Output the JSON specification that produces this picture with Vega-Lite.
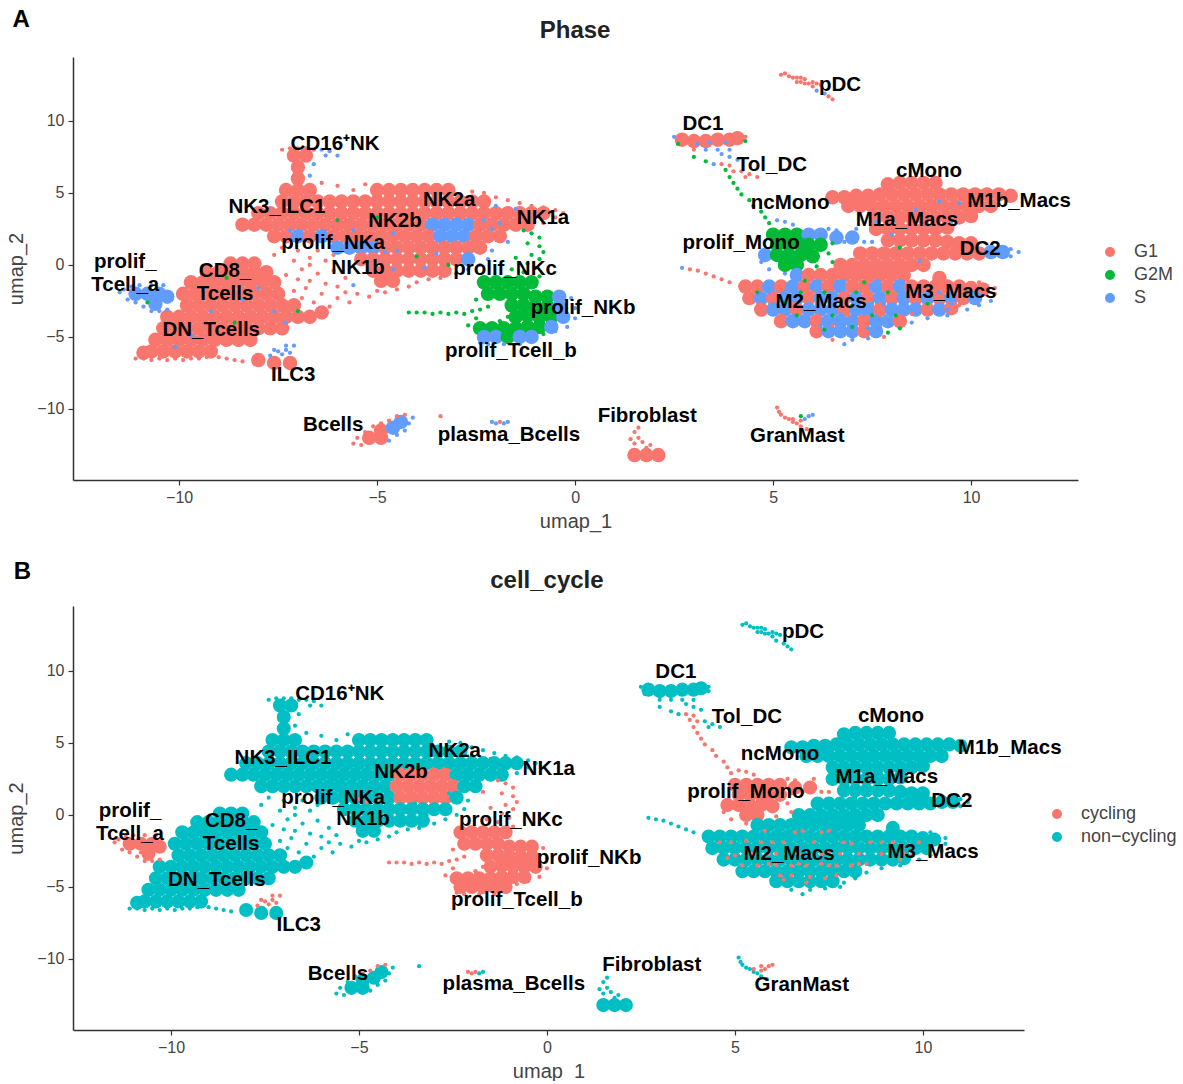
{"$schema":"https://vega.github.io/schema/vega-lite/v6.json","background":"white","padding":{"left":6,"top":8,"right":0,"bottom":0},"spacing":29,"resolve":{"scale":{"color":"independent"},"legend":{"color":"independent"}},
"config":{"view":{"stroke":null},"font":"Liberation Sans","axis":{"grid":false,"domainColor":"#333333","domainWidth":1.5,"tickColor":"#333333","tickWidth":1.2,"tickSize":5,"labelColor":"#444444","labelFontSize":16,"titleColor":"#444444","titleFontSize":20,"titleFontWeight":"normal","labelPadding":4},"axisX":{"titlePadding":6},"axisY":{"titlePadding":10},"legend":{"title":null,"labelFontSize":18,"labelColor":"#444444","symbolSize":100,"symbolType":"circle","rowPadding":5,"labelOffset":15,"orient":"none"}},
"datasets":{
"base":[
{"x":-10.9,"y":-6.1,"p":"G1","c":"n"},{"x":-10.7,"y":-6,"p":"G1","c":"n"},{"x":-10.4,"y":-6,"p":"G1","c":"n"},{"x":-10.1,"y":-6,"p":"G1","c":"n"},{"x":-9.8,"y":-6,"p":"G1","c":"n"},{"x":-9.5,"y":-6,"p":"G1","c":"n"},{"x":-9.2,"y":-6,"p":"G1","c":"n"},
{"x":-10.6,"y":-5.2,"p":"G1","c":"n"},{"x":-10.3,"y":-5.2,"p":"G1","c":"n"},{"x":-10,"y":-5.2,"p":"G1","c":"n"},{"x":-9.7,"y":-5.2,"p":"G1","c":"n"},{"x":-9.4,"y":-5.2,"p":"G1","c":"n"},{"x":-9.1,"y":-5.2,"p":"G1","c":"n"},{"x":-8.8,"y":-5.2,"p":"G1","c":"n"},{"x":-8.5,"y":-5.2,"p":"G1","c":"n"},{"x":-8.2,"y":-5.2,"p":"G1","c":"n"},
{"x":-10.4,"y":-4.4,"p":"G1","c":"n"},{"x":-10.1,"y":-4.4,"p":"G1","c":"n"},{"x":-9.8,"y":-4.4,"p":"G1","c":"n"},{"x":-9.5,"y":-4.4,"p":"G1","c":"n"},{"x":-9.2,"y":-4.4,"p":"G1","c":"n"},{"x":-8.9,"y":-4.4,"p":"G1","c":"n"},{"x":-8.6,"y":-4.4,"p":"G1","c":"n"},{"x":-8.3,"y":-4.4,"p":"G1","c":"n"},{"x":-8,"y":-4.4,"p":"G1","c":"n"},{"x":-7.7,"y":-4.4,"p":"G1","c":"n"},{"x":-7.4,"y":-4.4,"p":"G1","c":"n"},
{"x":-10.3,"y":-3.6,"p":"G1","c":"n"},{"x":-10,"y":-3.6,"p":"G1","c":"n"},{"x":-9.7,"y":-3.6,"p":"G1","c":"n"},{"x":-9.4,"y":-3.6,"p":"G1","c":"n"},{"x":-9.1,"y":-3.6,"p":"G1","c":"n"},{"x":-8.8,"y":-3.6,"p":"G1","c":"n"},{"x":-8.5,"y":-3.6,"p":"G1","c":"n"},{"x":-8.2,"y":-3.6,"p":"G1","c":"n"},{"x":-7.9,"y":-3.6,"p":"G1","c":"n"},{"x":-7.6,"y":-3.6,"p":"G1","c":"n"},{"x":-7.3,"y":-3.6,"p":"G1","c":"n"},{"x":-7,"y":-3.6,"p":"G1","c":"n"},{"x":-6.7,"y":-3.6,"p":"G1","c":"n"},{"x":-6.4,"y":-3.3,"p":"G1","c":"n"},
{"x":-9.8,"y":-2.8,"p":"G1","c":"n"},{"x":-9.5,"y":-2.8,"p":"G1","c":"n"},{"x":-9.2,"y":-2.8,"p":"G1","c":"n"},{"x":-8.9,"y":-2.8,"p":"G1","c":"n"},{"x":-8.6,"y":-2.8,"p":"G1","c":"n"},{"x":-8.3,"y":-2.8,"p":"G1","c":"n"},{"x":-8,"y":-2.8,"p":"G1","c":"n"},{"x":-7.7,"y":-2.8,"p":"G1","c":"n"},{"x":-7.4,"y":-2.8,"p":"G1","c":"n"},{"x":-7.1,"y":-2.8,"p":"G1","c":"n"},
{"x":-9.9,"y":-2,"p":"G1","c":"n"},{"x":-9.6,"y":-2,"p":"G1","c":"n"},{"x":-9.3,"y":-2,"p":"G1","c":"n"},{"x":-9,"y":-2,"p":"G1","c":"n"},{"x":-8.7,"y":-2,"p":"G1","c":"n"},{"x":-8.4,"y":-2,"p":"G1","c":"n"},{"x":-8.1,"y":-2,"p":"G1","c":"n"},{"x":-7.8,"y":-2,"p":"G1","c":"n"},{"x":-7.5,"y":-2,"p":"G1","c":"n"},
{"x":-9.7,"y":-1.2,"p":"G1","c":"n"},{"x":-9.4,"y":-1.2,"p":"G1","c":"n"},{"x":-9.1,"y":-1.2,"p":"G1","c":"n"},{"x":-8.8,"y":-1.2,"p":"G1","c":"n"},{"x":-8.5,"y":-1.2,"p":"G1","c":"n"},{"x":-8.2,"y":-1.2,"p":"G1","c":"n"},{"x":-7.9,"y":-1.2,"p":"G1","c":"n"},{"x":-7.6,"y":-1.2,"p":"G1","c":"n"},
{"x":-9.3,"y":-0.5,"p":"G1","c":"n"},{"x":-9,"y":-0.5,"p":"G1","c":"n"},{"x":-8.7,"y":-0.5,"p":"G1","c":"n"},{"x":-8.4,"y":-0.5,"p":"G1","c":"n"},{"x":-8.1,"y":-0.5,"p":"G1","c":"n"},{"x":-7.8,"y":-0.5,"p":"G1","c":"n"},{"x":-8.7,"y":0.1,"p":"G1","c":"n"},{"x":-8.4,"y":0.1,"p":"G1","c":"n"},{"x":-8.1,"y":0.1,"p":"G1","c":"n"},
{"x":-11.1,"y":-2,"p":"S","c":"c"},{"x":-10.8,"y":-2,"p":"S","c":"c"},{"x":-10.5,"y":-2,"p":"S","c":"c"},{"x":-10.3,"y":-2.2,"p":"S","c":"c"},{"x":-10.6,"y":-2.7,"p":"S","c":"c"},
{"x":-8,"y":-6.6,"p":"G1","c":"n"},{"x":-7.6,"y":-6.8,"p":"G1","c":"n"},{"x":-7.2,"y":-6.8,"p":"G1","c":"n"},
{"x":-7.1,"y":7.6,"p":"G1","c":"n"},{"x":-6.8,"y":7.6,"p":"G1","c":"n"},{"x":-7,"y":6.8,"p":"G1","c":"n"},{"x":-7,"y":6,"p":"G1","c":"n"},
{"x":-7.3,"y":5.2,"p":"G1","c":"n"},{"x":-7,"y":5.2,"p":"G1","c":"n"},{"x":-6.7,"y":5.2,"p":"G1","c":"n"},{"x":-5,"y":5.2,"p":"G1","c":"n"},{"x":-4.7,"y":5.2,"p":"G1","c":"n"},{"x":-4.4,"y":5.2,"p":"G1","c":"n"},{"x":-4.1,"y":5.2,"p":"G1","c":"n"},{"x":-3.8,"y":5.2,"p":"G1","c":"n"},{"x":-3.5,"y":5.2,"p":"G1","c":"n"},{"x":-3.2,"y":5.2,"p":"G1","c":"n"},
{"x":-7.4,"y":4.4,"p":"G1","c":"n"},{"x":-7.1,"y":4.4,"p":"G1","c":"n"},{"x":-6.8,"y":4.4,"p":"G1","c":"n"},{"x":-6.5,"y":4.4,"p":"G1","c":"n"},{"x":-6.2,"y":4.4,"p":"G1","c":"n"},{"x":-5.9,"y":4.4,"p":"G1","c":"n"},{"x":-5.6,"y":4.4,"p":"G1","c":"n"},{"x":-5.3,"y":4.4,"p":"G1","c":"n"},{"x":-5,"y":4.4,"p":"G1","c":"n"},{"x":-4.7,"y":4.4,"p":"G1","c":"n"},{"x":-4.4,"y":4.4,"p":"G1","c":"n"},{"x":-4.1,"y":4.4,"p":"G1","c":"n"},{"x":-3.8,"y":4.4,"p":"G1","c":"n"},{"x":-3.5,"y":4.4,"p":"G1","c":"n"},{"x":-3.2,"y":4.4,"p":"G1","c":"n"},{"x":-2.9,"y":4.4,"p":"G1","c":"n"},{"x":-2.6,"y":4.4,"p":"G1","c":"n"},{"x":-2.3,"y":4.4,"p":"G1","c":"n"},
{"x":-8,"y":3.6,"p":"G1","c":"n"},{"x":-7.7,"y":3.6,"p":"G1","c":"n"},{"x":-7.4,"y":3.6,"p":"G1","c":"n"},{"x":-7.1,"y":3.6,"p":"G1","c":"n"},{"x":-6.8,"y":3.6,"p":"G1","c":"n"},{"x":-6.5,"y":3.6,"p":"G1","c":"n"},{"x":-6.2,"y":3.6,"p":"G1","c":"n"},{"x":-5.9,"y":3.6,"p":"G1","c":"n"},{"x":-5.6,"y":3.6,"p":"G1","c":"n"},{"x":-5.3,"y":3.6,"p":"G1","c":"n"},{"x":-5,"y":3.6,"p":"G1","c":"n"},{"x":-4.7,"y":3.6,"p":"G1","c":"n"},{"x":-4.4,"y":3.6,"p":"G1","c":"n"},{"x":-4.1,"y":3.6,"p":"G1","c":"n"},{"x":-3.8,"y":3.6,"p":"G1","c":"n"},{"x":-3.5,"y":3.6,"p":"G1","c":"n"},{"x":-3.2,"y":3.6,"p":"G1","c":"n"},{"x":-2.9,"y":3.6,"p":"G1","c":"n"},{"x":-2.6,"y":3.6,"p":"G1","c":"n"},{"x":-2.3,"y":3.6,"p":"G1","c":"n"},{"x":-2,"y":3.6,"p":"G1","c":"n"},{"x":-1.7,"y":3.6,"p":"G1","c":"n"},{"x":-1.4,"y":3.6,"p":"G1","c":"n"},{"x":-1.1,"y":3.6,"p":"G1","c":"n"},{"x":-0.8,"y":3.6,"p":"G1","c":"n"},
{"x":-8.4,"y":2.8,"p":"G1","c":"n"},{"x":-8.1,"y":2.8,"p":"G1","c":"n"},{"x":-7.8,"y":2.8,"p":"G1","c":"n"},{"x":-7.5,"y":2.8,"p":"G1","c":"n"},{"x":-7.2,"y":2.8,"p":"G1","c":"n"},{"x":-6.9,"y":2.8,"p":"G1","c":"n"},{"x":-6.6,"y":2.8,"p":"G1","c":"n"},{"x":-6.3,"y":2.8,"p":"G1","c":"n"},{"x":-6,"y":2.8,"p":"G1","c":"n"},{"x":-5.7,"y":2.8,"p":"G1","c":"n"},{"x":-5.4,"y":2.8,"p":"G1","c":"n"},{"x":-5.1,"y":2.8,"p":"G1","c":"n"},{"x":-4.8,"y":2.8,"p":"G1","c":"n"},{"x":-4.5,"y":2.8,"p":"G1","c":"n"},{"x":-4.2,"y":2.8,"p":"G1","c":"n"},{"x":-3.9,"y":2.8,"p":"G1","c":"c"},{"x":-3.6,"y":2.8,"p":"S","c":"c"},{"x":-3.3,"y":2.8,"p":"S","c":"c"},{"x":-3,"y":2.8,"p":"S","c":"c"},{"x":-2.7,"y":2.8,"p":"S","c":"c"},{"x":-2.4,"y":2.8,"p":"G1","c":"n"},{"x":-2.1,"y":2.8,"p":"G1","c":"n"},{"x":-1.8,"y":2.8,"p":"G1","c":"n"},{"x":-1.5,"y":2.8,"p":"G1","c":"n"},{"x":-1.2,"y":2.8,"p":"G1","c":"n"},
{"x":-7.6,"y":2,"p":"G1","c":"n"},{"x":-7.3,"y":2,"p":"G1","c":"n"},{"x":-7,"y":2,"p":"S","c":"n"},{"x":-6.7,"y":2,"p":"G1","c":"n"},{"x":-6.4,"y":2,"p":"S","c":"n"},{"x":-6.1,"y":2,"p":"G1","c":"n"},{"x":-5.8,"y":2,"p":"G1","c":"n"},{"x":-5.5,"y":2,"p":"G1","c":"n"},{"x":-5.2,"y":2,"p":"G1","c":"n"},{"x":-4.9,"y":2,"p":"G1","c":"n"},{"x":-4.6,"y":2,"p":"G1","c":"n"},{"x":-4.3,"y":2,"p":"G1","c":"n"},{"x":-4,"y":2,"p":"G1","c":"c"},{"x":-3.7,"y":2,"p":"G1","c":"c"},{"x":-3.4,"y":2,"p":"S","c":"c"},{"x":-3.1,"y":2,"p":"S","c":"c"},{"x":-2.8,"y":2,"p":"S","c":"c"},{"x":-2.5,"y":2,"p":"G1","c":"c"},{"x":-2.2,"y":2,"p":"G1","c":"n"},{"x":-1.9,"y":2,"p":"G1","c":"n"},
{"x":-6,"y":1.2,"p":"S","c":"n"},{"x":-5.7,"y":1.2,"p":"S","c":"n"},{"x":-5.4,"y":1.2,"p":"S","c":"n"},{"x":-5.1,"y":1.2,"p":"S","c":"n"},{"x":-4.8,"y":1.2,"p":"G1","c":"n"},{"x":-4.5,"y":1.2,"p":"G1","c":"n"},{"x":-4.2,"y":1.2,"p":"G1","c":"n"},{"x":-3.9,"y":1.2,"p":"G1","c":"c"},{"x":-3.6,"y":1.2,"p":"G1","c":"c"},{"x":-3.3,"y":1.2,"p":"G1","c":"c"},{"x":-3,"y":1.2,"p":"G1","c":"c"},{"x":-2.7,"y":1.2,"p":"G1","c":"c"},{"x":-2.4,"y":1.2,"p":"G1","c":"n"},
{"x":-5.4,"y":0.4,"p":"G1","c":"n"},{"x":-5.1,"y":0.4,"p":"G1","c":"n"},{"x":-4.8,"y":0.4,"p":"G1","c":"n"},{"x":-4.5,"y":0.4,"p":"G1","c":"n"},{"x":-4.2,"y":0.4,"p":"G1","c":"n"},{"x":-3.9,"y":0.4,"p":"G1","c":"n"},{"x":-3.6,"y":0.4,"p":"G1","c":"n"},{"x":-3.3,"y":0.4,"p":"G1","c":"n"},{"x":-3,"y":0.4,"p":"G1","c":"n"},{"x":-2.7,"y":0.4,"p":"S","c":"n"},
{"x":-5.1,"y":-0.4,"p":"G1","c":"n"},{"x":-4.8,"y":-0.4,"p":"G1","c":"n"},{"x":-4.5,"y":-0.4,"p":"G1","c":"n"},{"x":-4.2,"y":-0.4,"p":"G1","c":"n"},{"x":-3.9,"y":-0.4,"p":"G1","c":"n"},{"x":-3.6,"y":-0.4,"p":"G1","c":"n"},{"x":-3.3,"y":-0.4,"p":"G1","c":"n"},{"x":-4.9,"y":-1.1,"p":"G1","c":"n"},{"x":-4.6,"y":-1.1,"p":"G1","c":"n"},
{"x":-2.3,"y":-1.2,"p":"G2M","c":"c"},{"x":-2,"y":-1.2,"p":"G2M","c":"c"},{"x":-1.7,"y":-1.2,"p":"G2M","c":"c"},{"x":-1.4,"y":-1.2,"p":"G2M","c":"c"},{"x":-1.1,"y":-1.2,"p":"G2M","c":"c"},{"x":-2.2,"y":-2,"p":"G2M","c":"c"},{"x":-1.9,"y":-2,"p":"G2M","c":"c"},{"x":-1.6,"y":-2,"p":"G2M","c":"c"},{"x":-1.3,"y":-2,"p":"G2M","c":"c"},{"x":-1,"y":-2.2,"p":"G2M","c":"c"},{"x":-0.7,"y":-2.2,"p":"G2M","c":"c"},{"x":-0.4,"y":-2.2,"p":"S","c":"c"},{"x":-1.6,"y":-2.8,"p":"G2M","c":"c"},{"x":-1.3,"y":-2.8,"p":"G2M","c":"c"},{"x":-1,"y":-2.9,"p":"G2M","c":"c"},{"x":-0.7,"y":-2.9,"p":"G2M","c":"c"},{"x":-0.4,"y":-2.9,"p":"S","c":"c"},{"x":-1.5,"y":-3.6,"p":"G2M","c":"c"},{"x":-1.2,"y":-3.5,"p":"G2M","c":"c"},{"x":-0.9,"y":-3.6,"p":"G2M","c":"c"},{"x":-0.6,"y":-3.6,"p":"G2M","c":"c"},{"x":-0.3,"y":-3.6,"p":"S","c":"c"},{"x":-2.4,"y":-4.4,"p":"G2M","c":"c"},{"x":-2.1,"y":-4.4,"p":"G2M","c":"c"},{"x":-1.8,"y":-4.4,"p":"G2M","c":"c"},{"x":-1.5,"y":-4.4,"p":"G2M","c":"c"},{"x":-1.2,"y":-4.3,"p":"G2M","c":"c"},{"x":-0.9,"y":-4.3,"p":"G2M","c":"c"},{"x":-0.6,"y":-4.3,"p":"S","c":"c"},{"x":-2.3,"y":-5,"p":"S","c":"c"},{"x":-2,"y":-5,"p":"S","c":"c"},{"x":-1.7,"y":-5,"p":"G2M","c":"c"},{"x":-1.4,"y":-5,"p":"S","c":"c"},{"x":-1.1,"y":-5,"p":"S","c":"c"},
{"x":2.7,"y":8.7,"p":"G1","c":"n"},{"x":3,"y":8.6,"p":"G1","c":"n"},{"x":3.3,"y":8.6,"p":"G1","c":"n"},{"x":3.6,"y":8.7,"p":"G1","c":"n"},{"x":3.9,"y":8.7,"p":"G1","c":"n"},{"x":4.1,"y":8.8,"p":"G1","c":"n"},
{"x":5,"y":2.1,"p":"G2M","c":"c"},{"x":5.3,"y":2.1,"p":"G2M","c":"c"},{"x":5.6,"y":2.1,"p":"G2M","c":"c"},{"x":5.9,"y":2.1,"p":"S","c":"c"},{"x":6.2,"y":2.1,"p":"S","c":"c"},{"x":5.1,"y":1.4,"p":"G2M","c":"c"},{"x":5.4,"y":1.4,"p":"G2M","c":"c"},{"x":5.7,"y":1.4,"p":"G2M","c":"c"},{"x":5.9,"y":1.4,"p":"G2M","c":"c"},{"x":6.2,"y":1.4,"p":"G2M","c":"c"},{"x":4.8,"y":0.7,"p":"S","c":"c"},{"x":5.1,"y":0.7,"p":"G2M","c":"c"},{"x":5.4,"y":0.7,"p":"G2M","c":"c"},{"x":5.7,"y":0.7,"p":"G2M","c":"c"},{"x":6,"y":0.6,"p":"G2M","c":"c"},{"x":5.3,"y":0,"p":"G2M","c":"c"},{"x":5.6,"y":0,"p":"G2M","c":"c"},{"x":6.6,"y":1.9,"p":"S","c":"c"},{"x":7,"y":1.9,"p":"S","c":"c"},
{"x":7.9,"y":5.6,"p":"G1","c":"n"},{"x":8.2,"y":5.7,"p":"G1","c":"n"},{"x":8.5,"y":5.7,"p":"G1","c":"n"},{"x":8.8,"y":5.7,"p":"G1","c":"n"},{"x":9.1,"y":5.7,"p":"G1","c":"n"},
{"x":6.5,"y":4.7,"p":"G1","c":"n"},{"x":6.8,"y":4.7,"p":"G1","c":"n"},{"x":7.1,"y":4.8,"p":"G1","c":"n"},{"x":7.4,"y":4.8,"p":"G1","c":"n"},{"x":7.7,"y":4.9,"p":"G1","c":"n"},{"x":8,"y":4.9,"p":"G1","c":"n"},{"x":8.3,"y":4.9,"p":"G1","c":"n"},{"x":8.6,"y":4.9,"p":"G1","c":"n"},{"x":8.9,"y":4.9,"p":"G1","c":"n"},{"x":9.2,"y":4.9,"p":"G1","c":"n"},{"x":9.5,"y":4.9,"p":"G1","c":"n"},{"x":9.8,"y":4.9,"p":"G1","c":"n"},{"x":10.1,"y":4.9,"p":"G1","c":"n"},{"x":10.4,"y":4.9,"p":"G1","c":"n"},{"x":10.7,"y":4.9,"p":"G1","c":"n"},{"x":11,"y":4.8,"p":"G1","c":"n"},
{"x":6.9,"y":4.1,"p":"G1","c":"n"},{"x":7.2,"y":4.1,"p":"G1","c":"n"},{"x":7.5,"y":4.1,"p":"G1","c":"n"},{"x":7.8,"y":4.1,"p":"G1","c":"n"},{"x":8.1,"y":4.1,"p":"G1","c":"n"},{"x":8.4,"y":4.1,"p":"G1","c":"n"},{"x":8.7,"y":4.1,"p":"G1","c":"n"},{"x":9,"y":4.1,"p":"G1","c":"n"},{"x":9.3,"y":4.1,"p":"G1","c":"n"},{"x":9.6,"y":4.1,"p":"G1","c":"n"},{"x":9.9,"y":4.1,"p":"G1","c":"n"},{"x":10.2,"y":4.1,"p":"G1","c":"n"},{"x":10.5,"y":4.1,"p":"G1","c":"n"},
{"x":7.6,"y":3.3,"p":"G1","c":"n"},{"x":7.9,"y":3.3,"p":"G1","c":"n"},{"x":8.2,"y":3.3,"p":"G1","c":"n"},{"x":8.5,"y":3.3,"p":"G1","c":"n"},{"x":8.8,"y":3.3,"p":"G1","c":"n"},{"x":9.1,"y":3.3,"p":"G1","c":"n"},{"x":9.4,"y":3.3,"p":"G1","c":"n"},{"x":9.7,"y":3.3,"p":"G1","c":"n"},{"x":10,"y":3.4,"p":"G1","c":"n"},
{"x":7.6,"y":2.5,"p":"G1","c":"n"},{"x":7.9,"y":2.5,"p":"G1","c":"n"},{"x":8.2,"y":2.5,"p":"G1","c":"n"},{"x":8.5,"y":2.5,"p":"G1","c":"n"},{"x":8.8,"y":2.5,"p":"G1","c":"n"},{"x":9.1,"y":2.5,"p":"G1","c":"n"},{"x":9.4,"y":2.6,"p":"G1","c":"n"},
{"x":7.9,"y":1.7,"p":"G1","c":"n"},{"x":8.2,"y":1.7,"p":"G1","c":"n"},{"x":8.5,"y":1.7,"p":"G1","c":"n"},{"x":8.8,"y":1.7,"p":"G1","c":"n"},{"x":9.1,"y":1.7,"p":"G1","c":"n"},{"x":9.4,"y":1.6,"p":"G1","c":"n"},{"x":9.7,"y":1.5,"p":"G1","c":"n"},{"x":10,"y":1.5,"p":"G1","c":"n"},
{"x":7.2,"y":0.8,"p":"G1","c":"n"},{"x":7.5,"y":0.8,"p":"G1","c":"n"},{"x":7.8,"y":0.8,"p":"G1","c":"n"},{"x":8.1,"y":0.8,"p":"G1","c":"n"},{"x":8.4,"y":0.8,"p":"G1","c":"n"},{"x":8.7,"y":0.8,"p":"G1","c":"n"},{"x":9,"y":0.8,"p":"G1","c":"n"},{"x":9.3,"y":0.8,"p":"G1","c":"n"},{"x":9.6,"y":0.8,"p":"G1","c":"n"},{"x":9.9,"y":0.8,"p":"G1","c":"n"},{"x":10.2,"y":0.8,"p":"G1","c":"n"},{"x":10.5,"y":0.9,"p":"S","c":"n"},{"x":10.8,"y":0.9,"p":"S","c":"n"},
{"x":6.7,"y":0,"p":"G1","c":"n"},{"x":7,"y":0,"p":"G1","c":"n"},{"x":7.3,"y":0,"p":"G1","c":"n"},{"x":7.6,"y":0,"p":"G1","c":"n"},{"x":7.9,"y":0,"p":"G1","c":"n"},{"x":8.2,"y":0,"p":"G1","c":"n"},{"x":8.5,"y":0,"p":"G1","c":"n"},{"x":8.8,"y":0,"p":"G1","c":"n"},
{"x":5.6,"y":-0.7,"p":"S","c":"n"},{"x":5.9,"y":-0.7,"p":"G1","c":"n"},{"x":6.2,"y":-0.7,"p":"G1","c":"n"},{"x":6.5,"y":-0.7,"p":"G1","c":"n"},{"x":6.8,"y":-0.7,"p":"G1","c":"n"},{"x":7.1,"y":-0.7,"p":"G1","c":"n"},{"x":7.4,"y":-0.7,"p":"G1","c":"n"},{"x":7.7,"y":-0.7,"p":"G1","c":"n"},{"x":8,"y":-0.7,"p":"G1","c":"n"},{"x":8.3,"y":-0.7,"p":"G1","c":"n"},{"x":9.2,"y":-0.9,"p":"G1","c":"n"},
{"x":4.3,"y":-1.5,"p":"G1","c":"n"},{"x":4.6,"y":-1.5,"p":"G1","c":"n"},{"x":4.9,"y":-1.5,"p":"S","c":"n"},{"x":5.2,"y":-1.5,"p":"G1","c":"n"},{"x":5.5,"y":-1.5,"p":"S","c":"n"},{"x":5.8,"y":-1.5,"p":"G1","c":"n"},{"x":6.1,"y":-1.5,"p":"S","c":"n"},{"x":6.4,"y":-1.5,"p":"G1","c":"n"},{"x":6.7,"y":-1.5,"p":"S","c":"n"},{"x":7,"y":-1.5,"p":"G1","c":"n"},{"x":7.3,"y":-1.5,"p":"G1","c":"n"},{"x":7.6,"y":-1.5,"p":"S","c":"n"},{"x":7.9,"y":-1.5,"p":"G1","c":"n"},{"x":8.2,"y":-1.5,"p":"S","c":"n"},{"x":8.5,"y":-1.5,"p":"G1","c":"n"},{"x":8.8,"y":-1.5,"p":"G1","c":"n"},{"x":9.1,"y":-1.5,"p":"G1","c":"n"},{"x":9.4,"y":-1.5,"p":"G1","c":"n"},{"x":9.7,"y":-1.5,"p":"G1","c":"n"},{"x":10,"y":-1.6,"p":"G1","c":"n"},{"x":10.3,"y":-1.7,"p":"G1","c":"n"},
{"x":4.4,"y":-2.3,"p":"G1","c":"n"},{"x":4.7,"y":-2.3,"p":"S","c":"n"},{"x":5,"y":-2.3,"p":"G1","c":"n"},{"x":5.3,"y":-2.3,"p":"S","c":"n"},{"x":5.6,"y":-2.3,"p":"S","c":"n"},{"x":5.9,"y":-2.3,"p":"G1","c":"n"},{"x":6.2,"y":-2.3,"p":"S","c":"n"},{"x":6.5,"y":-2.3,"p":"S","c":"n"},{"x":6.8,"y":-2.3,"p":"G1","c":"n"},{"x":7.1,"y":-2.3,"p":"S","c":"n"},{"x":7.4,"y":-2.3,"p":"G1","c":"n"},{"x":7.7,"y":-2.3,"p":"S","c":"n"},{"x":8,"y":-2.3,"p":"G1","c":"n"},{"x":8.3,"y":-2.3,"p":"S","c":"n"},{"x":8.6,"y":-2.3,"p":"G1","c":"n"},{"x":8.9,"y":-2.3,"p":"S","c":"n"},{"x":9.2,"y":-2.3,"p":"G1","c":"n"},{"x":9.5,"y":-2.3,"p":"S","c":"n"},{"x":9.8,"y":-2.3,"p":"G1","c":"n"},{"x":10.1,"y":-2.3,"p":"S","c":"n"},
{"x":4.7,"y":-3.1,"p":"G1","c":"n"},{"x":5,"y":-3.1,"p":"S","c":"n"},{"x":5.3,"y":-3.1,"p":"S","c":"n"},{"x":5.6,"y":-3.1,"p":"G1","c":"n"},{"x":5.9,"y":-3.1,"p":"S","c":"n"},{"x":6.2,"y":-3.1,"p":"S","c":"n"},{"x":6.5,"y":-3.1,"p":"S","c":"n"},{"x":6.8,"y":-3.1,"p":"G1","c":"n"},{"x":7.1,"y":-3.1,"p":"S","c":"n"},{"x":7.4,"y":-3.1,"p":"S","c":"n"},{"x":7.7,"y":-3.1,"p":"G1","c":"n"},{"x":8,"y":-3.1,"p":"S","c":"n"},{"x":8.3,"y":-3.1,"p":"S","c":"n"},{"x":8.6,"y":-3.1,"p":"S","c":"n"},{"x":8.9,"y":-3.1,"p":"G1","c":"n"},{"x":9.2,"y":-3.1,"p":"S","c":"n"},{"x":9.5,"y":-3,"p":"G1","c":"n"},
{"x":5.2,"y":-3.9,"p":"G1","c":"n"},{"x":5.5,"y":-3.9,"p":"S","c":"n"},{"x":5.8,"y":-3.9,"p":"S","c":"n"},{"x":6.1,"y":-3.9,"p":"G1","c":"n"},{"x":6.4,"y":-3.9,"p":"S","c":"n"},{"x":6.7,"y":-3.9,"p":"S","c":"n"},{"x":7,"y":-3.9,"p":"S","c":"n"},{"x":7.3,"y":-3.9,"p":"G1","c":"n"},{"x":7.6,"y":-3.9,"p":"S","c":"n"},{"x":7.9,"y":-3.9,"p":"S","c":"n"},{"x":8.2,"y":-3.9,"p":"G1","c":"n"},
{"x":6.1,"y":-4.6,"p":"G1","c":"n"},{"x":6.4,"y":-4.6,"p":"S","c":"n"},{"x":6.7,"y":-4.6,"p":"S","c":"n"},{"x":7,"y":-4.6,"p":"S","c":"n"},{"x":7.3,"y":-4.6,"p":"G1","c":"n"},{"x":7.6,"y":-4.6,"p":"S","c":"n"},
{"x":-5.2,"y":-12,"p":"G1","c":"n"},{"x":-4.9,"y":-12,"p":"G1","c":"n"},{"x":-4.9,"y":-11.5,"p":"G1","c":"n"},{"x":-4.6,"y":-11.3,"p":"S","c":"n"},{"x":-4.4,"y":-10.9,"p":"S","c":"n"},
{"x":1.5,"y":-13.2,"p":"G1","c":"n"},{"x":1.8,"y":-13.2,"p":"G1","c":"n"},{"x":2.1,"y":-13.2,"p":"G1","c":"n"}
],
"speck":[
{"x":-11.1,"y":-6.5,"p":"G1","c":"n"},{"x":-10.9,"y":-6.5,"p":"G1","c":"n"},{"x":-10.7,"y":-6.6,"p":"G1","c":"n"},{"x":-10.5,"y":-6.5,"p":"G1","c":"n"},{"x":-10.3,"y":-6.6,"p":"G1","c":"n"},{"x":-10.1,"y":-6.5,"p":"G1","c":"n"},{"x":-9.9,"y":-6.6,"p":"G1","c":"n"},{"x":-9.7,"y":-6.5,"p":"G1","c":"n"},{"x":-9.5,"y":-6.5,"p":"G1","c":"n"},{"x":-9.3,"y":-6.4,"p":"G1","c":"n"},{"x":-9,"y":-6.4,"p":"G1","c":"n"},{"x":-8.8,"y":-6.5,"p":"G1","c":"n"},{"x":-8.6,"y":-6.6,"p":"G1","c":"n"},{"x":-8.4,"y":-6.7,"p":"G1","c":"n"},{"x":-7.7,"y":-6.3,"p":"S","c":"c"},{"x":-7.5,"y":-6,"p":"S","c":"c"},{"x":-7.3,"y":-5.9,"p":"S","c":"c"},{"x":-7.1,"y":-5.6,"p":"S","c":"c"},{"x":-7.6,"y":-5.9,"p":"S","c":"c"},{"x":-7.4,"y":-6.2,"p":"S","c":"c"},{"x":-7.2,"y":-6.1,"p":"S","c":"c"},{"x":-7.3,"y":-5.6,"p":"S","c":"c"},
{"x":-11.5,"y":-1.9,"p":"S","c":"c"},{"x":-11.4,"y":-1.7,"p":"S","c":"c"},{"x":-11.2,"y":-1.5,"p":"S","c":"c"},{"x":-11,"y":-1.4,"p":"S","c":"c"},{"x":-10.7,"y":-1.4,"p":"S","c":"c"},{"x":-10.4,"y":-1.4,"p":"S","c":"c"},{"x":-11.3,"y":-2.4,"p":"S","c":"c"},{"x":-11.1,"y":-2.6,"p":"S","c":"c"},{"x":-10.9,"y":-2.9,"p":"S","c":"c"},{"x":-10.7,"y":-3.2,"p":"S","c":"c"},{"x":-10.5,"y":-3.2,"p":"S","c":"c"},{"x":-10.3,"y":-3.1,"p":"S","c":"c"},{"x":-10.8,"y":-2.6,"p":"G2M","c":"c"},
{"x":-7.1,"y":-1.8,"p":"G1","c":"n"},{"x":-6.9,"y":-2.3,"p":"G1","c":"n"},{"x":-6.6,"y":-2.6,"p":"G1","c":"n"},{"x":-6.4,"y":-2,"p":"G1","c":"n"},{"x":-6.2,"y":-2.9,"p":"G1","c":"n"},{"x":-6,"y":-2.3,"p":"G1","c":"n"},{"x":-5.7,"y":-2.6,"p":"G1","c":"n"},{"x":-5.5,"y":-2,"p":"G1","c":"n"},{"x":-5.2,"y":-2.2,"p":"G1","c":"n"},{"x":-5,"y":-1.8,"p":"G1","c":"n"},{"x":-4.8,"y":-1.9,"p":"G1","c":"n"},{"x":-4.5,"y":-1.7,"p":"G1","c":"n"},{"x":-4.2,"y":-1.5,"p":"G1","c":"n"},{"x":-4,"y":-1.2,"p":"G1","c":"n"},{"x":-3.7,"y":-1,"p":"G1","c":"n"},{"x":-3.4,"y":-0.9,"p":"G1","c":"n"},{"x":-3,"y":-0.6,"p":"S","c":"n"},{"x":-2.7,"y":-0.3,"p":"S","c":"n"},{"x":-2.4,"y":0,"p":"S","c":"n"},{"x":-2.2,"y":0.4,"p":"S","c":"n"},{"x":-2.1,"y":1,"p":"S","c":"n"},{"x":-6.7,"y":-1.1,"p":"G1","c":"n"},{"x":-6.5,"y":-0.6,"p":"G1","c":"n"},{"x":-6.9,"y":-0.3,"p":"G1","c":"n"},{"x":-7.1,"y":0.3,"p":"G1","c":"n"},{"x":-6.7,"y":0.5,"p":"G1","c":"n"},{"x":-7,"y":1,"p":"G1","c":"n"},{"x":-6.5,"y":1,"p":"G1","c":"n"},{"x":-6.3,"y":0.3,"p":"G1","c":"n"},{"x":-6.1,"y":-0.4,"p":"G1","c":"n"},{"x":-5.8,"y":-0.9,"p":"G1","c":"n"},{"x":-6,"y":-1.5,"p":"G1","c":"n"},{"x":-5.6,"y":-1.4,"p":"S","c":"n"},{"x":-7.4,"y":1.2,"p":"G1","c":"n"},{"x":-7.6,"y":0.7,"p":"G1","c":"n"},{"x":-7.3,"y":-0.7,"p":"G1","c":"n"},{"x":-7,"y":-1,"p":"G1","c":"n"},{"x":-6.8,"y":-1.6,"p":"G1","c":"n"},{"x":-6.3,"y":-1.3,"p":"G1","c":"n"},{"x":-5.8,"y":-1.9,"p":"G1","c":"n"},{"x":-6.7,"y":0,"p":"G1","c":"n"},{"x":-6.1,"y":0.7,"p":"G1","c":"n"},
{"x":-9.2,"y":-3.2,"p":"S","c":"n"},{"x":-8.4,"y":-2.4,"p":"S","c":"n"},{"x":-7.6,"y":-3.2,"p":"S","c":"n"},{"x":-9.7,"y":-4.9,"p":"S","c":"n"},{"x":-8.6,"y":-4,"p":"G2M","c":"n"},{"x":-8,"y":-1.6,"p":"S","c":"n"},{"x":-7.3,"y":-4,"p":"S","c":"n"},{"x":-7,"y":-3.2,"p":"G2M","c":"n"},{"x":-9.4,"y":-1.7,"p":"S","c":"n"},{"x":-8.8,"y":-0.9,"p":"G2M","c":"n"},{"x":-10.1,"y":-5.7,"p":"S","c":"n"},
{"x":-7.4,"y":8,"p":"G1","c":"n"},{"x":-7.2,"y":8.1,"p":"G1","c":"n"},{"x":-7,"y":8.1,"p":"G1","c":"n"},{"x":-6.8,"y":8.1,"p":"G1","c":"n"},{"x":-6.6,"y":8,"p":"G1","c":"n"},{"x":-6.4,"y":8,"p":"S","c":"n"},{"x":-6.2,"y":7.9,"p":"S","c":"n"},{"x":-6,"y":7.6,"p":"S","c":"n"},{"x":-6.3,"y":7.6,"p":"S","c":"n"},{"x":-6.6,"y":7,"p":"S","c":"n"},{"x":-6.7,"y":6.2,"p":"S","c":"n"},{"x":-6.4,"y":5.7,"p":"G1","c":"n"},{"x":-6,"y":5.5,"p":"G1","c":"n"},{"x":-5.6,"y":5.2,"p":"G1","c":"n"},{"x":-5.3,"y":5.6,"p":"G1","c":"n"},
{"x":-2.6,"y":5.1,"p":"G1","c":"n"},{"x":-2.3,"y":5,"p":"G1","c":"n"},{"x":-2,"y":4.7,"p":"G1","c":"n"},{"x":-1.7,"y":4.5,"p":"G1","c":"n"},{"x":-1.4,"y":4.3,"p":"G1","c":"n"},{"x":-1.1,"y":4.1,"p":"G1","c":"n"},{"x":-0.8,"y":4,"p":"G1","c":"n"},{"x":-0.5,"y":3.8,"p":"G1","c":"n"},{"x":-0.3,"y":3.6,"p":"G1","c":"n"},{"x":-0.5,"y":3.3,"p":"G1","c":"n"},{"x":-0.8,"y":2.9,"p":"G1","c":"n"},{"x":-2,"y":4.1,"p":"S","c":"n"},{"x":-1.5,"y":3.9,"p":"S","c":"n"},{"x":-1,"y":3.5,"p":"S","c":"n"},{"x":-2.3,"y":3.1,"p":"S","c":"n"},{"x":-2.1,"y":2.5,"p":"S","c":"n"},{"x":-1.9,"y":2.9,"p":"S","c":"n"},
{"x":-5.6,"y":2.4,"p":"S","c":"n"},{"x":-5.3,"y":1.5,"p":"S","c":"n"},{"x":-7.2,"y":2.4,"p":"S","c":"n"},{"x":-4.5,"y":1,"p":"S","c":"c"},{"x":-4.8,"y":0.9,"p":"S","c":"c"},{"x":-5,"y":1.1,"p":"S","c":"c"},{"x":-4.6,"y":2.2,"p":"S","c":"n"},{"x":-6,"y":3.1,"p":"G2M","c":"n"},{"x":-5,"y":3.3,"p":"G2M","c":"n"},{"x":-4,"y":0.6,"p":"G2M","c":"n"},{"x":-3.2,"y":0,"p":"G2M","c":"n"},{"x":-4.6,"y":-0.3,"p":"S","c":"n"},{"x":-3.8,"y":-0.2,"p":"S","c":"n"},{"x":-3.5,"y":0.8,"p":"S","c":"n"},{"x":-2.6,"y":1.5,"p":"G1","c":"n"},
{"x":-1.3,"y":2.4,"p":"G2M","c":"c"},{"x":-1.1,"y":2.2,"p":"G2M","c":"c"},{"x":-0.9,"y":1.9,"p":"G2M","c":"c"},{"x":-1.2,"y":1.5,"p":"G2M","c":"c"},{"x":-0.9,"y":1.3,"p":"G2M","c":"c"},{"x":-0.8,"y":0.9,"p":"G2M","c":"c"},{"x":-1.1,"y":0.7,"p":"G2M","c":"c"},{"x":-0.9,"y":0.4,"p":"G2M","c":"c"},{"x":-1.2,"y":0.1,"p":"G2M","c":"c"},{"x":-1,"y":-0.2,"p":"G2M","c":"c"},{"x":-1.3,"y":-0.5,"p":"G2M","c":"c"},{"x":-1.6,"y":-0.3,"p":"G2M","c":"c"},{"x":-0.9,"y":-0.8,"p":"G2M","c":"c"},{"x":-1.5,"y":0.5,"p":"G2M","c":"c"},{"x":-1.7,"y":1.6,"p":"S","c":"c"},
{"x":-4.2,"y":-3.3,"p":"G2M","c":"c"},{"x":-4,"y":-3.3,"p":"G2M","c":"c"},{"x":-3.8,"y":-3.3,"p":"G2M","c":"c"},{"x":-3.6,"y":-3.4,"p":"G2M","c":"c"},{"x":-3.4,"y":-3.3,"p":"G2M","c":"c"},{"x":-3.2,"y":-3.4,"p":"G2M","c":"c"},{"x":-3,"y":-3.3,"p":"G2M","c":"c"},{"x":-2.8,"y":-3.4,"p":"G2M","c":"c"},{"x":-2.6,"y":-3.2,"p":"G2M","c":"c"},{"x":-2.4,"y":-3.1,"p":"G2M","c":"c"},{"x":-2.2,"y":-2.9,"p":"G2M","c":"c"},{"x":-2.5,"y":-2.4,"p":"G2M","c":"c"},{"x":-1.7,"y":-3.6,"p":"G2M","c":"c"},{"x":-1.9,"y":-3.9,"p":"G2M","c":"c"},{"x":-0.1,"y":-2.3,"p":"S","c":"c"},{"x":0,"y":-3,"p":"S","c":"c"},{"x":0,"y":-3.7,"p":"S","c":"c"},{"x":-0.2,"y":-4.3,"p":"S","c":"c"},{"x":-0.5,"y":-4.6,"p":"S","c":"c"},{"x":-0.8,"y":-4.8,"p":"G2M","c":"c"},{"x":-2.4,"y":-5.4,"p":"S","c":"c"},{"x":-2.2,"y":-5.5,"p":"S","c":"c"},{"x":-1.8,"y":-5.5,"p":"S","c":"c"},{"x":-1.4,"y":-5.5,"p":"S","c":"c"},{"x":-2.7,"y":-4.2,"p":"G2M","c":"c"},{"x":-2.5,"y":-3.7,"p":"G2M","c":"c"},
{"x":5.2,"y":13.2,"p":"G1","c":"n"},{"x":5.3,"y":13.3,"p":"G1","c":"n"},{"x":5.4,"y":13.1,"p":"G1","c":"n"},{"x":5.5,"y":13,"p":"G1","c":"n"},{"x":5.6,"y":13,"p":"G1","c":"n"},{"x":5.7,"y":13,"p":"G1","c":"n"},{"x":5.8,"y":12.9,"p":"G1","c":"n"},{"x":5.6,"y":12.7,"p":"G1","c":"n"},{"x":5.7,"y":12.7,"p":"G1","c":"n"},{"x":5.8,"y":12.6,"p":"G1","c":"n"},{"x":5.9,"y":12.6,"p":"G1","c":"n"},{"x":6,"y":12.7,"p":"G1","c":"n"},{"x":6,"y":12.4,"p":"G1","c":"n"},{"x":6.1,"y":12.6,"p":"G1","c":"n"},{"x":6.2,"y":12.5,"p":"G1","c":"n"},{"x":6.1,"y":12.1,"p":"S","c":"n"},{"x":6.3,"y":11.9,"p":"S","c":"n"},{"x":6.4,"y":11.7,"p":"G1","c":"n"},{"x":6.5,"y":11.5,"p":"G1","c":"n"},
{"x":2.5,"y":8.9,"p":"S","c":"n"},{"x":2.6,"y":8.4,"p":"G2M","c":"n"},{"x":3,"y":8,"p":"G1","c":"n"},{"x":3.3,"y":8,"p":"S","c":"n"},{"x":3.6,"y":8,"p":"S","c":"n"},{"x":3.9,"y":8,"p":"S","c":"n"},{"x":4.3,"y":8.9,"p":"G1","c":"n"},{"x":4.3,"y":8.6,"p":"G2M","c":"n"},{"x":3.4,"y":8.5,"p":"S","c":"n"},{"x":3.1,"y":8.4,"p":"S","c":"n"},{"x":3.8,"y":8.5,"p":"S","c":"n"},{"x":3.7,"y":7.7,"p":"S","c":"n"},{"x":3.9,"y":7.5,"p":"S","c":"n"},{"x":4.1,"y":7.3,"p":"S","c":"n"},{"x":3,"y":7.5,"p":"G2M","c":"n"},{"x":3.3,"y":7.2,"p":"G2M","c":"n"},{"x":3.5,"y":7,"p":"S","c":"n"},
{"x":3.7,"y":7,"p":"G1","c":"c"},{"x":3.9,"y":6.9,"p":"G1","c":"c"},{"x":3.8,"y":6.6,"p":"G2M","c":"c"},{"x":4,"y":6.5,"p":"G1","c":"c"},{"x":4.2,"y":6.5,"p":"G1","c":"n"},{"x":4.4,"y":6.3,"p":"G1","c":"n"},{"x":4.6,"y":6.1,"p":"G1","c":"n"},{"x":4.3,"y":6.1,"p":"G1","c":"n"},
{"x":3.9,"y":6.1,"p":"G2M","c":"c"},{"x":4,"y":5.7,"p":"G2M","c":"c"},{"x":4.1,"y":5.3,"p":"G2M","c":"c"},{"x":4.2,"y":4.9,"p":"G2M","c":"c"},{"x":4.4,"y":4.5,"p":"G2M","c":"c"},{"x":4.5,"y":4.1,"p":"G2M","c":"c"},{"x":4.7,"y":3.7,"p":"G2M","c":"c"},{"x":4.8,"y":3.3,"p":"G2M","c":"c"},{"x":4.9,"y":2.9,"p":"G2M","c":"c"},{"x":5.1,"y":3.1,"p":"S","c":"c"},{"x":5.3,"y":3,"p":"S","c":"c"},{"x":5.5,"y":2.8,"p":"S","c":"c"},
{"x":6.4,"y":2.5,"p":"S","c":"c"},{"x":6.6,"y":2.4,"p":"S","c":"c"},{"x":6.5,"y":1.5,"p":"G2M","c":"c"},{"x":7.1,"y":2.5,"p":"S","c":"c"},{"x":7.3,"y":1.6,"p":"S","c":"c"},{"x":7.5,"y":1.6,"p":"S","c":"c"},{"x":6.8,"y":1.6,"p":"S","c":"c"},{"x":6.4,"y":0.8,"p":"G2M","c":"c"},{"x":6.5,"y":0.2,"p":"G2M","c":"c"},{"x":6.1,"y":-0.1,"p":"G2M","c":"c"},{"x":4.7,"y":0.2,"p":"S","c":"c"},{"x":4.9,"y":-0.3,"p":"S","c":"c"},{"x":5.3,"y":-0.6,"p":"S","c":"c"},
{"x":2.7,"y":-0.2,"p":"S","c":"n"},{"x":2.9,"y":-0.3,"p":"G1","c":"n"},{"x":3.1,"y":-0.4,"p":"G1","c":"n"},{"x":3.3,"y":-0.6,"p":"G1","c":"n"},{"x":3.5,"y":-0.8,"p":"G1","c":"n"},{"x":3.7,"y":-1,"p":"G1","c":"n"},{"x":3.9,"y":-1.2,"p":"G1","c":"n"},
{"x":8.6,"y":3.8,"p":"S","c":"n"},{"x":9.2,"y":4.4,"p":"S","c":"n"},{"x":9.5,"y":3,"p":"S","c":"n"},{"x":8,"y":2.1,"p":"S","c":"n"},{"x":7.6,"y":3,"p":"S","c":"n"},{"x":8.9,"y":2.8,"p":"S","c":"n"},{"x":9.7,"y":4.3,"p":"S","c":"n"},{"x":8.2,"y":1.2,"p":"G2M","c":"n"},{"x":8.7,"y":0.3,"p":"S","c":"n"},{"x":11,"y":1.1,"p":"S","c":"n"},{"x":11.2,"y":0.9,"p":"S","c":"n"},{"x":11,"y":0.6,"p":"S","c":"n"},
{"x":4.6,"y":-1.9,"p":"G2M","c":"c"},{"x":5,"y":-2.8,"p":"S","c":"c"},{"x":5.3,"y":-1.8,"p":"S","c":"c"},{"x":5.6,"y":-3.5,"p":"G2M","c":"c"},{"x":5.8,"y":-1.1,"p":"G2M","c":"c"},{"x":5.9,"y":-2.7,"p":"S","c":"c"},{"x":6.2,"y":-4.2,"p":"S","c":"c"},{"x":6.3,"y":-1.9,"p":"G2M","c":"c"},{"x":6.5,"y":-3.5,"p":"G2M","c":"c"},{"x":6.7,"y":-2.7,"p":"S","c":"c"},{"x":6.8,"y":-1.1,"p":"S","c":"c"},{"x":7,"y":-4.3,"p":"G2M","c":"c"},{"x":7.1,"y":-1.9,"p":"G2M","c":"c"},{"x":7.3,"y":-3.4,"p":"S","c":"c"},{"x":7.5,"y":-2.7,"p":"S","c":"c"},{"x":7.7,"y":-4.2,"p":"S","c":"c"},{"x":7.9,"y":-1.9,"p":"G2M","c":"c"},{"x":8.1,"y":-3.5,"p":"G2M","c":"c"},{"x":8.3,"y":-2.7,"p":"S","c":"c"},{"x":8.6,"y":-1.9,"p":"S","c":"c"},{"x":8.9,"y":-2.7,"p":"G2M","c":"c"},{"x":9.2,"y":-1.9,"p":"S","c":"c"},{"x":9.5,"y":-2.7,"p":"S","c":"c"},{"x":9.9,"y":-1.9,"p":"G2M","c":"c"},
{"x":4.8,"y":-3,"p":"G1","c":"c"},{"x":5.2,"y":-3.5,"p":"G1","c":"c"},{"x":5.5,"y":-2.7,"p":"G1","c":"c"},{"x":6,"y":-1.9,"p":"G1","c":"c"},{"x":6.1,"y":-3.5,"p":"G1","c":"c"},{"x":6.5,"y":-4.2,"p":"G1","c":"c"},{"x":6.9,"y":-3.5,"p":"G1","c":"c"},{"x":7.3,"y":-2.7,"p":"G1","c":"c"},{"x":7.7,"y":-3.5,"p":"G1","c":"c"},{"x":7.5,"y":-1.1,"p":"G1","c":"c"},{"x":8.5,"y":-3.4,"p":"G1","c":"c"},{"x":8.1,"y":-2,"p":"G1","c":"c"},{"x":9.7,"y":-2.8,"p":"G1","c":"c"},
{"x":4.9,"y":-1.9,"p":"S","c":"c"},{"x":5.7,"y":-1.9,"p":"G2M","c":"c"},{"x":6.6,"y":-1.2,"p":"S","c":"c"},{"x":7.3,"y":-1.2,"p":"G2M","c":"c"},{"x":5.3,"y":-2.6,"p":"G2M","c":"c"},{"x":6.1,"y":-2.7,"p":"S","c":"c"},{"x":7,"y":-2.8,"p":"G2M","c":"c"},{"x":7.8,"y":-2.7,"p":"S","c":"c"},{"x":5.9,"y":-3.4,"p":"S","c":"c"},{"x":6.7,"y":-3.4,"p":"S","c":"c"},{"x":7.5,"y":-3.5,"p":"G2M","c":"c"},{"x":8.3,"y":-3.4,"p":"S","c":"c"},{"x":6.3,"y":-4.5,"p":"G2M","c":"c"},{"x":6.9,"y":-4.7,"p":"S","c":"c"},{"x":7.4,"y":-4.4,"p":"S","c":"c"},{"x":8.9,"y":-1.9,"p":"S","c":"c"},{"x":9.4,"y":-3.1,"p":"S","c":"c"},
{"x":10.2,"y":-1.2,"p":"G1","c":"n"},{"x":10.6,"y":-1.6,"p":"G1","c":"n"},{"x":10.6,"y":-2,"p":"G1","c":"n"},{"x":10.5,"y":-2.5,"p":"S","c":"n"},{"x":10.2,"y":-2.8,"p":"S","c":"n"},{"x":9.9,"y":-3.1,"p":"S","c":"n"},{"x":9.4,"y":-3.5,"p":"S","c":"n"},{"x":8.9,"y":-3.7,"p":"S","c":"n"},{"x":8.5,"y":-4,"p":"S","c":"n"},{"x":8.2,"y":-4.4,"p":"G2M","c":"n"},{"x":7.9,"y":-4.7,"p":"G2M","c":"n"},{"x":7.8,"y":-5,"p":"G1","c":"n"},{"x":7.4,"y":-5.1,"p":"S","c":"n"},{"x":7,"y":-5.2,"p":"S","c":"n"},{"x":6.8,"y":-5.5,"p":"S","c":"n"},{"x":6.5,"y":-5.2,"p":"G1","c":"n"},
{"x":-5.6,"y":-12.4,"p":"G1","c":"n"},{"x":-5.4,"y":-12.5,"p":"G1","c":"n"},{"x":-5.5,"y":-12,"p":"G1","c":"n"},{"x":-5.3,"y":-11.6,"p":"G1","c":"n"},{"x":-4.7,"y":-12.2,"p":"S","c":"n"},{"x":-4.5,"y":-11.8,"p":"S","c":"n"},{"x":-4.3,"y":-11.5,"p":"S","c":"n"},{"x":-4.2,"y":-11,"p":"S","c":"n"},{"x":-4.1,"y":-10.6,"p":"S","c":"n"},{"x":-4.3,"y":-10.4,"p":"G1","c":"c"},{"x":-4.5,"y":-10.5,"p":"G1","c":"c"},{"x":-4.7,"y":-10.8,"p":"G1","c":"c"},{"x":-4.9,"y":-11,"p":"G1","c":"c"},{"x":-5.1,"y":-11.2,"p":"G1","c":"n"},
{"x":-2.1,"y":-10.9,"p":"S","c":"c"},{"x":-2,"y":-11,"p":"S","c":"c"},{"x":-1.9,"y":-10.9,"p":"G1","c":"c"},{"x":-1.8,"y":-11,"p":"S","c":"n"},{"x":-1.7,"y":-10.9,"p":"S","c":"n"},{"x":-3.4,"y":-10.5,"p":"G1","c":"n"},
{"x":1.8,"y":-12.7,"p":"G1","c":"n"},{"x":1.5,"y":-12.4,"p":"G1","c":"n"},{"x":1.6,"y":-12,"p":"G1","c":"n"},{"x":1.5,"y":-11.6,"p":"G1","c":"n"},{"x":1.6,"y":-11.3,"p":"G1","c":"n"},{"x":1.4,"y":-12.1,"p":"G1","c":"n"},{"x":1.7,"y":-12.3,"p":"G1","c":"n"},{"x":1.9,"y":-12.5,"p":"G1","c":"n"},
{"x":5.1,"y":-9.9,"p":"G1","c":"n"},{"x":5.15,"y":-10.2,"p":"G1","c":"n"},{"x":5.2,"y":-10.4,"p":"G1","c":"n"},{"x":5.3,"y":-10.6,"p":"G1","c":"n"},{"x":5.4,"y":-10.7,"p":"G1","c":"n"},{"x":5.5,"y":-10.9,"p":"G1","c":"n"},{"x":5.6,"y":-11,"p":"G1","c":"n"},{"x":5.7,"y":-11.2,"p":"G1","c":"n"},{"x":5.85,"y":-11.4,"p":"G1","c":"n"},{"x":5.5,"y":-10.7,"p":"G1","c":"c"},{"x":5.7,"y":-10.8,"p":"G1","c":"c"},{"x":5.9,"y":-10.5,"p":"S","c":"c"},{"x":6,"y":-10.4,"p":"S","c":"c"},{"x":5.8,"y":-10.7,"p":"S","c":"c"},{"x":5.7,"y":-10.5,"p":"G2M","c":"c"}
],
"labelsA":[{"x":6.69,"y":12.5,"t":"pDC"},{"x":3.23,"y":9.79,"t":"DC1"},{"x":4.97,"y":6.94,"t":"Tol_DC"},{"x":8.94,"y":6.53,"t":"cMono"},{"x":11.21,"y":4.44,"t":"M1b_Macs"},{"x":5.43,"y":4.31,"t":"ncMono"},{"x":8.38,"y":3.13,"t":"M1a_Macs"},{"x":4.19,"y":1.53,"t":"prolif_Mono"},{"x":10.23,"y":1.11,"t":"DC2"},{"x":9.49,"y":-1.88,"t":"M3_Macs"},{"x":6.21,"y":-2.57,"t":"M2_Macs"},{"x":-6.06,"y":8.4,"t":"CD16⁺NK"},{"x":-7.53,"y":4.03,"t":"NK3_ILC1"},{"x":-3.18,"y":4.51,"t":"NK2a"},{"x":-4.55,"y":3.06,"t":"NK2b"},{"x":-0.81,"y":3.26,"t":"NK1a"},{"x":-6.11,"y":1.53,"t":"prolif_NKa"},{"x":-5.48,"y":-0.21,"t":"NK1b"},{"x":-1.77,"y":-0.28,"t":"prolif_NKc"},{"x":0.2,"y":-2.99,"t":"prolif_NKb"},{"x":-1.62,"y":-5.97,"t":"prolif_Tcell_b"},{"x":-11.36,"y":0.24,"t":"prolif_\nTcell_a"},{"x":-8.84,"y":-0.42,"t":"CD8_\nTcells"},{"x":-9.19,"y":-4.51,"t":"DN_Tcells"},{"x":-7.12,"y":-7.64,"t":"ILC3"},{"x":-6.11,"y":-11.11,"t":"Bcells"},{"x":-1.67,"y":-11.81,"t":"plasma_Bcells"},{"x":1.82,"y":-10.49,"t":"Fibroblast"},{"x":5.61,"y":-11.88,"t":"GranMast"}],
"labelsB":[{"x":6.81,"y":12.71,"t":"pDC"},{"x":3.43,"y":9.93,"t":"DC1"},{"x":5.32,"y":6.81,"t":"Tol_DC"},{"x":9.15,"y":6.88,"t":"cMono"},{"x":12.31,"y":4.65,"t":"M1b_Macs"},{"x":6.2,"y":4.24,"t":"ncMono"},{"x":9.04,"y":2.64,"t":"M1a_Macs"},{"x":5.29,"y":1.6,"t":"prolif_Mono"},{"x":10.77,"y":0.97,"t":"DC2"},{"x":10.27,"y":-2.57,"t":"M3_Macs"},{"x":6.44,"y":-2.71,"t":"M2_Macs"},{"x":-5.51,"y":8.4,"t":"CD16⁺NK"},{"x":-7.02,"y":3.96,"t":"NK3_ILC1"},{"x":-2.45,"y":4.44,"t":"NK2a"},{"x":-3.88,"y":2.99,"t":"NK2b"},{"x":0.05,"y":3.19,"t":"NK1a"},{"x":-5.69,"y":1.18,"t":"prolif_NKa"},{"x":-4.89,"y":-0.28,"t":"NK1b"},{"x":-0.96,"y":-0.35,"t":"prolif_NKc"},{"x":1.12,"y":-2.99,"t":"prolif_NKb"},{"x":-0.8,"y":-5.9,"t":"prolif_Tcell_b"},{"x":-11.09,"y":0.28,"t":"prolif_\nTcell_a"},{"x":-8.4,"y":-0.42,"t":"CD8_\nTcells"},{"x":-8.78,"y":-4.51,"t":"DN_Tcells"},{"x":-6.6,"y":-7.64,"t":"ILC3"},{"x":-5.56,"y":-11.04,"t":"Bcells"},{"x":-0.88,"y":-11.74,"t":"plasma_Bcells"},{"x":2.79,"y":-10.42,"t":"Fibroblast"},{"x":6.78,"y":-11.8,"t":"GranMast"}]
},
"vconcat":[
{"width":1005,"height":423,
"encoding":{"x":{"field":"x","type":"quantitative","title":"umap_1","scale":{"domain":[-12.68,12.7],"nice":false,"zero":false},"axis":{"values":[-10,-5,0,5,10]}},"y":{"field":"y","type":"quantitative","title":"umap_2","scale":{"domain":[-14.93,14.44],"nice":false,"zero":false},"axis":{"values":[-10,-5,0,5,10]}}},
"layer":[
{"data":{"name":"base"},"mark":{"type":"circle","size":210,"opacity":1},"encoding":{"color":{"field":"p","type":"nominal","scale":{"domain":["G1","G2M","S"],"range":["#F8766D","#00BA38","#619CFF"]},"legend":{"legendX":1028,"legendY":186}}}},
{"data":{"name":"speck"},"mark":{"type":"circle","size":18,"opacity":1},"encoding":{"color":{"field":"p","type":"nominal"}}},
{"data":{"name":"labelsA"},"mark":{"type":"text","fontSize":20.5,"fontWeight":"bold","color":"black","lineBreak":"\n","lineHeight":23},"encoding":{"text":{"field":"t","type":"nominal"}}},
{"data":{"values":[{"x":-13.99,"y":17,"t":"A"}]},"mark":{"type":"text","fontSize":24,"fontWeight":"bold","color":"black"},"encoding":{"text":{"field":"t","type":"nominal"}}},
{"data":{"values":[{"x":0,"y":16.25,"t":"Phase"}]},"mark":{"type":"text","fontSize":24,"fontWeight":"bold","color":"#222222"},"encoding":{"text":{"field":"t","type":"nominal"}}}
]},
{"width":951,"height":424,
"encoding":{"x":{"field":"x","type":"quantitative","title":"umap_1","scale":{"domain":[-12.606,12.69],"nice":false,"zero":false},"axis":{"values":[-10,-5,0,5,10]}},"y":{"field":"y","type":"quantitative","title":"umap_2","scale":{"domain":[-14.93,14.51],"nice":false,"zero":false},"axis":{"values":[-10,-5,0,5,10]}}},
"layer":[
{"data":{"name":"base"},"mark":{"type":"circle","size":200,"opacity":1},"encoding":{"color":{"field":"c","type":"nominal","scale":{"domain":["c","n"],"range":["#F8766D","#00BFC4"]},"legend":{"legendX":975,"legendY":199,"labelExpr":"datum.label=='c'?'cycling':'non−cycling'"}}}},
{"data":{"name":"speck"},"mark":{"type":"circle","size":18,"opacity":1},"encoding":{"color":{"field":"c","type":"nominal"}}},
{"data":{"name":"labelsB"},"mark":{"type":"text","fontSize":20.5,"fontWeight":"bold","color":"black","lineBreak":"\n","lineHeight":23},"encoding":{"text":{"field":"t","type":"nominal"}}},
{"data":{"values":[{"x":-13.95,"y":16.87,"t":"B"}]},"mark":{"type":"text","fontSize":24,"fontWeight":"bold","color":"black"},"encoding":{"text":{"field":"t","type":"nominal"}}},
{"data":{"values":[{"x":0,"y":16.25,"t":"cell_cycle"}]},"mark":{"type":"text","fontSize":24,"fontWeight":"bold","color":"#222222"},"encoding":{"text":{"field":"t","type":"nominal"}}}
]}
]}
